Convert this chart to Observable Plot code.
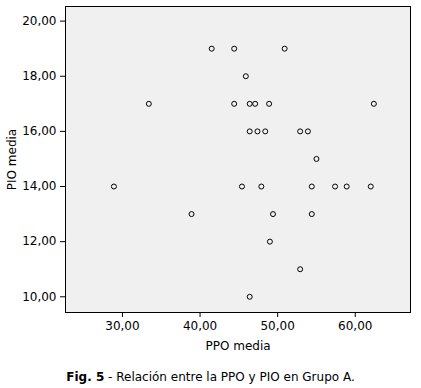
<!DOCTYPE html>
<html>
<head>
<meta charset="utf-8">
<script src="https://cdn.jsdelivr.net/npm/d3@7"></script>
<script src="https://cdn.jsdelivr.net/npm/@observablehq/plot@0.6"></script>
<style>
  html, body { margin: 0; padding: 0; background: #fff; }
  #chart svg { display: block; }
  #caption { font-family: "DejaVu Sans", Verdana, sans-serif; font-size: 12px; text-align: center; margin-top: 15px; width: 421px; color: #000; }
</style>
</head>
<body>
<div id="chart"></div>
<div id="caption"><b>Fig. 5</b> - Relación entre la PPO y PIO en Grupo A.</div>
<script>
const ppo = [41.5, 44.4, 50.9, 45.9, 33.4, 44.4, 46.4, 47.1, 48.9, 62.4, 46.4, 47.4, 48.4, 52.9, 53.9, 55.0, 28.9, 45.4, 47.9, 54.4, 57.4, 58.9, 62.0, 38.9, 49.4, 54.4, 49.0, 52.9, 46.4];
const pio = [19, 19, 19, 18, 17, 17, 17, 17, 17, 17, 16, 16, 16, 16, 16, 15, 14, 14, 14, 14, 14, 14, 14, 13, 13, 13, 12, 11, 10];
const xTicks = [30, 40, 50, 60];
const yTicks = [10, 12, 14, 16, 18, 20];
const data = ppo.map((x, i) => ({x, y: pio[i]}));
const fmt = d => d.toFixed(2).replace(".", ",");

const chart = Plot.plot({
  width: 421,
  height: 355,
  marginLeft: 65,
  marginRight: 11,
  marginTop: 6,
  marginBottom: 43,
  style: { fontFamily: "DejaVu Sans, Verdana, sans-serif", fontSize: "12px", color: "#000", background: "#fff" },
  x: { domain: [22.66, 67.12], ticks: xTicks, tickFormat: fmt, tickSize: 5, label: "PPO media", labelAnchor: "center", labelArrow: "none", labelOffset: 37 },
  y: { domain: [9.43, 20.53], ticks: yTicks, tickFormat: fmt, tickSize: 5, label: "PIO media", labelAnchor: "center", labelArrow: "none", labelOffset: 58 },
  marks: [
    Plot.frame({ fill: "#f0f0f0" }),
    Plot.frame({ stroke: "#000", strokeWidth: 1 }),
    Plot.dot(data, { x: "x", y: "y", r: 2.5, stroke: "#000", strokeWidth: 1, fill: "none" })
  ]
});
document.getElementById("chart").appendChild(chart);
</script>
</body>
</html>
